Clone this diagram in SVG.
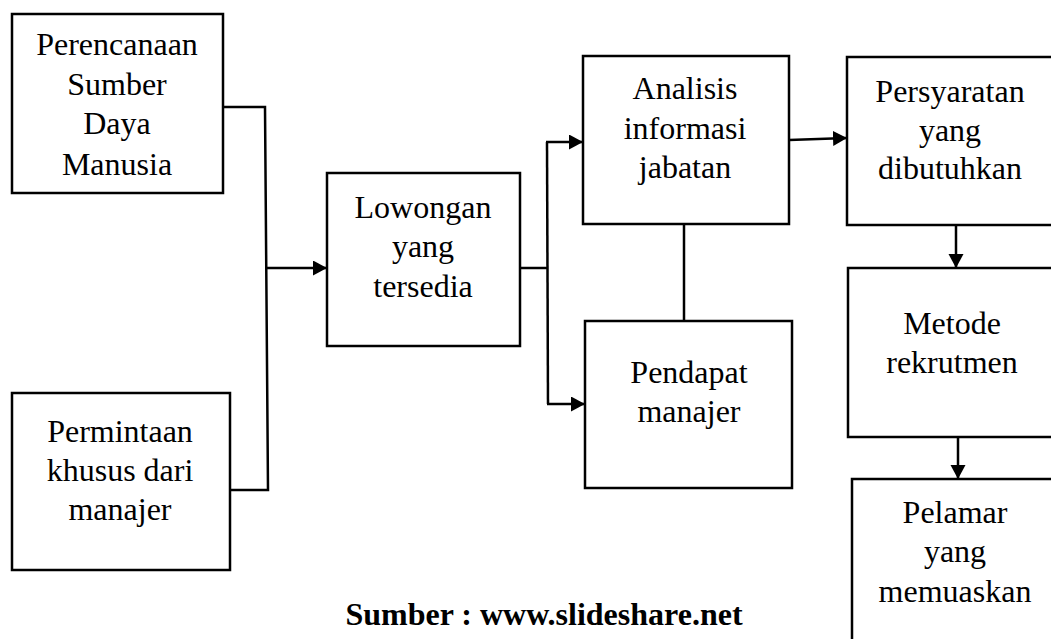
<svg xmlns="http://www.w3.org/2000/svg" width="1051" height="639" viewBox="0 0 1051 639">
<style>
.box{fill:#fff;stroke:#000;stroke-width:2.5}
.t{font-family:"Liberation Serif","Times New Roman",serif;font-size:32px;fill:#000;text-anchor:middle}
.c{fill:none;stroke:#000;stroke-width:2.5}
.src{font-family:"Liberation Serif","Times New Roman",serif;font-size:32px;font-weight:bold;fill:#000;text-anchor:middle}
</style>
<defs>
<marker id="ah" markerUnits="userSpaceOnUse" markerWidth="15" markerHeight="16" refX="14" refY="7.5" orient="auto">
<path d="M0,0 L14,7.5 L0,15 Z" fill="#000"/>
</marker>
</defs>
<rect width="1051" height="639" fill="#fff"/>
<g id="connectors">
<polyline class="c" points="223,107 265,107 268,490 230,490"/>
<line class="c" x1="266" y1="268" x2="327" y2="268" marker-end="url(#ah)"/>
<line class="c" x1="520" y1="268" x2="548" y2="268"/>
<line class="c" x1="547" y1="142" x2="548" y2="404"/>
<line class="c" x1="546" y1="142" x2="583" y2="142" marker-end="url(#ah)"/>
<line class="c" x1="547" y1="404" x2="585" y2="404" marker-end="url(#ah)"/>
<line class="c" x1="789" y1="140" x2="847" y2="138" marker-end="url(#ah)"/>
<line class="c" x1="684" y1="224" x2="684" y2="321"/>
<line class="c" x1="956" y1="225" x2="956" y2="268" marker-end="url(#ah)"/>
<line class="c" x1="958" y1="437" x2="958" y2="479" marker-end="url(#ah)"/>
</g>
<g id="perencanaan">
<rect class="box" x="12" y="14" width="211" height="179"/>
<text class="t" x="117" y="55">Perencanaan</text>
<text class="t" x="117" y="95">Sumber</text>
<text class="t" x="117" y="134">Daya</text>
<text class="t" x="117" y="175">Manusia</text>
</g>
<g id="permintaan">
<rect class="box" x="12" y="393" width="218" height="177"/>
<text class="t" x="120" y="442">Permintaan</text>
<text class="t" x="120" y="481">khusus dari</text>
<text class="t" x="120" y="520">manajer</text>
</g>
<g id="lowongan">
<rect class="box" x="327" y="173" width="193" height="173"/>
<text class="t" x="423" y="218">Lowongan</text>
<text class="t" x="423" y="257">yang</text>
<text class="t" x="423" y="297">tersedia</text>
</g>
<g id="analisis">
<rect class="box" x="583" y="56" width="206" height="168"/>
<text class="t" x="685" y="99">Analisis</text>
<text class="t" x="685" y="139">informasi</text>
<text class="t" x="685" y="178">jabatan</text>
</g>
<g id="pendapat">
<rect class="box" x="585" y="321" width="207" height="167"/>
<text class="t" x="689" y="383">Pendapat</text>
<text class="t" x="689" y="422">manajer</text>
</g>
<g id="persyaratan">
<rect class="box" x="847" y="57" width="220" height="168"/>
<text class="t" x="950" y="102">Persyaratan</text>
<text class="t" x="950" y="141">yang</text>
<text class="t" x="950" y="179">dibutuhkan</text>
</g>
<g id="metode">
<rect class="box" x="848" y="268" width="220" height="169"/>
<text class="t" x="952" y="334">Metode</text>
<text class="t" x="952" y="373">rekrutmen</text>
</g>
<g id="pelamar">
<rect class="box" x="852" y="479" width="220" height="180"/>
<text class="t" x="955" y="523">Pelamar</text>
<text class="t" x="955" y="562">yang</text>
<text class="t" x="955" y="602">memuaskan</text>
</g>
<text class="src" x="544" y="625">Sumber : www.slideshare.net</text>
</svg>
